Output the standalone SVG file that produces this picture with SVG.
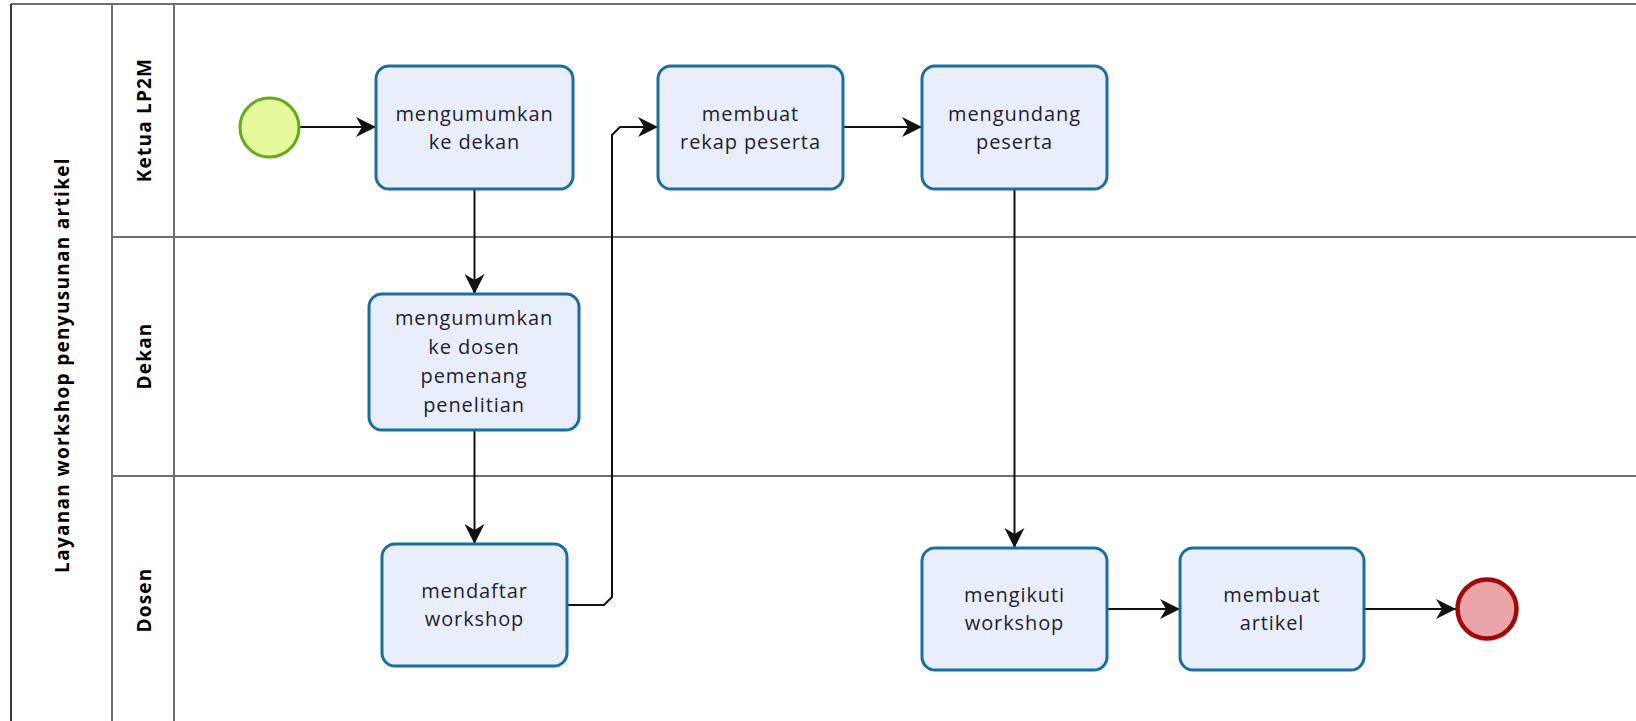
<svg xmlns="http://www.w3.org/2000/svg" width="1636" height="721" viewBox="0 0 1636 721">
  <style>
    .pool { stroke: #6e6e6e; stroke-width: 2; fill: none; }
    .task rect { fill: #E9EEFC; stroke: #1A6E9C; stroke-width: 3; }
    .task text { font-family: "Open Sans", "DejaVu Sans", sans-serif; font-size: 20px; letter-spacing: 0.9px; fill: #1e1e2e; text-anchor: middle; }
    .lane-label { font-family: "Open Sans", "DejaVu Sans", sans-serif; font-size: 19px; font-weight: bold; letter-spacing: 1.2px; fill: #000; text-anchor: middle; }
    .pool-label { letter-spacing: 1.3px; }
    .flow { stroke: #111; stroke-width: 2; fill: none; marker-end: url(#arrow); }
  </style>
  <defs>
    <marker id="arrow" viewBox="0 0 20 20" refX="20" refY="10" markerWidth="20" markerHeight="20" markerUnits="userSpaceOnUse" orient="auto">
      <path d="M0,0 L20,10 L0,20 L6,10 Z" fill="#111"/>
    </marker>
  </defs>
  <rect width="1636" height="721" fill="#ffffff"/>

  <g id="pool">
    <line class="pool" x1="11" y1="4" x2="1636" y2="4"/>
    <line x1="11" y1="4" x2="11" y2="721" stroke="#3a3a3a" stroke-width="2"/>
    <line class="pool" x1="112" y1="4" x2="112" y2="721"/>
    <line class="pool" x1="174" y1="4" x2="174" y2="721"/>
    <line class="pool" x1="112" y1="237" x2="1636" y2="237"/>
    <line class="pool" x1="112" y1="476" x2="1636" y2="476"/>
    <text class="lane-label pool-label" transform="translate(69,365) rotate(-90)">Layanan workshop penyusunan artikel</text>
  </g>
  <g id="lane-ketua"><text class="lane-label" transform="translate(151,120) rotate(-90)">Ketua LP2M</text></g>
  <g id="lane-dekan"><text class="lane-label" transform="translate(151,356) rotate(-90)">Dekan</text></g>
  <g id="lane-dosen"><text class="lane-label" transform="translate(151,600) rotate(-90)">Dosen</text></g>

  <g id="connectors">
    <line class="flow" x1="300" y1="127" x2="376" y2="127"/>
    <line class="flow" x1="474.5" y1="189" x2="474.5" y2="294"/>
    <line class="flow" x1="474.5" y1="430" x2="474.5" y2="544"/>
    <path class="flow" d="M567,605 L604,605 L612,597 L612,135 L620,127 L658,127"/>
    <line class="flow" x1="843" y1="127" x2="922" y2="127"/>
    <line class="flow" x1="1014.5" y1="189" x2="1014.5" y2="548"/>
    <line class="flow" x1="1107" y1="609" x2="1180" y2="609"/>
    <line class="flow" x1="1364" y1="609" x2="1456" y2="609"/>
  </g>

  <g id="start">
    <circle cx="269.5" cy="127.5" r="29.5" fill="#E4FA9C" stroke="#64AA1E" stroke-width="3"/>
  </g>

  <g id="task-mengumumkan-dekan" class="task">
    <rect x="376" y="66" width="197" height="123" rx="13"/>
    <text x="474.5" y="121">mengumumkan</text>
    <text x="474.5" y="149">ke dekan</text>
  </g>
  <g id="task-rekap" class="task">
    <rect x="658" y="66" width="185" height="123" rx="13"/>
    <text x="750.5" y="121">membuat</text>
    <text x="750.5" y="149">rekap peserta</text>
  </g>
  <g id="task-mengundang" class="task">
    <rect x="922" y="66" width="185" height="123" rx="13"/>
    <text x="1014.5" y="121">mengundang</text>
    <text x="1014.5" y="149">peserta</text>
  </g>
  <g id="task-mengumumkan-dosen" class="task">
    <rect x="369" y="294" width="210" height="136" rx="13"/>
    <text x="474" y="325">mengumumkan</text>
    <text x="474" y="354">ke dosen</text>
    <text x="474" y="383">pemenang</text>
    <text x="474" y="412">penelitian</text>
  </g>
  <g id="task-mendaftar" class="task">
    <rect x="382" y="544" width="185" height="122" rx="13"/>
    <text x="474.5" y="598">mendaftar</text>
    <text x="474.5" y="626">workshop</text>
  </g>
  <g id="task-mengikuti" class="task">
    <rect x="922" y="548" width="185" height="122" rx="13"/>
    <text x="1014.5" y="602">mengikuti</text>
    <text x="1014.5" y="630">workshop</text>
  </g>
  <g id="task-artikel" class="task">
    <rect x="1180" y="548" width="184" height="122" rx="13"/>
    <text x="1272" y="602">membuat</text>
    <text x="1272" y="630">artikel</text>
  </g>

  <g id="end">
    <circle cx="1487" cy="609" r="29.5" fill="#EBA5A8" stroke="#A00A0A" stroke-width="4.5"/>
  </g>
</svg>
